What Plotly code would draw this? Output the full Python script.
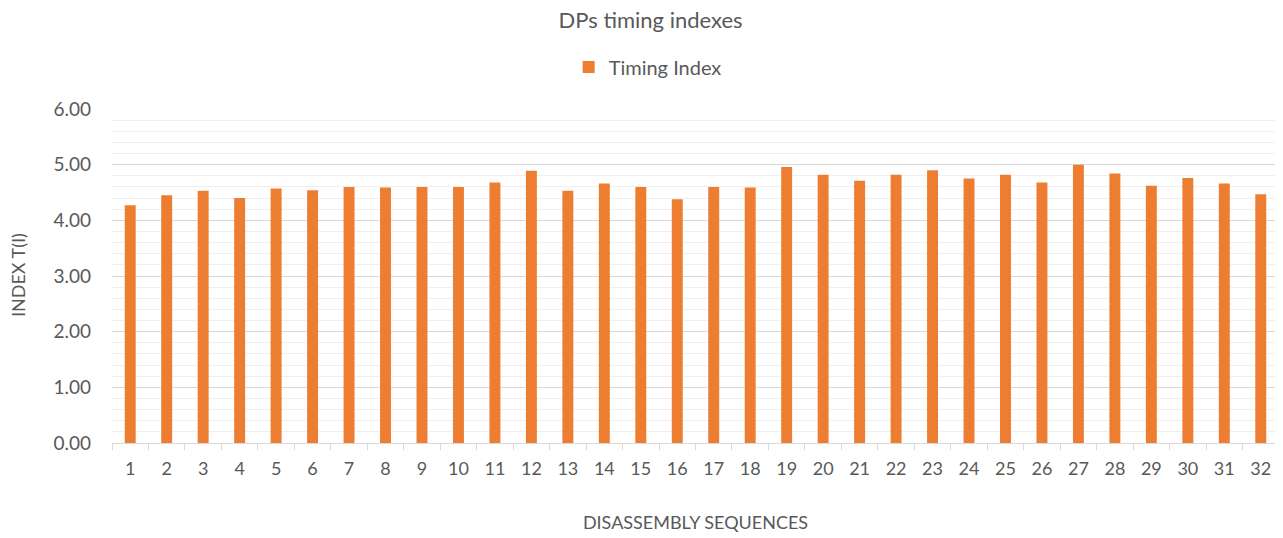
import plotly.graph_objects as go

categories = [str(i) for i in range(1, 33)]
timing_index = [4.27, 4.45, 4.53, 4.40, 4.57, 4.54, 4.60, 4.59, 4.60, 4.60,
                4.68, 4.89, 4.53, 4.66, 4.60, 4.38, 4.60, 4.59, 4.96, 4.82,
                4.71, 4.82, 4.90, 4.75, 4.82, 4.68, 5.00, 4.84, 4.62, 4.76,
                4.66, 4.47]

FONT = "Lato"
GRAY = "#595959"
W, H = 1275, 530  # page body has an 8px margin

fig = go.Figure()
fig.add_trace(go.Bar(
    x=categories, y=timing_index, name="Timing Index",
    marker=dict(color="#ED7D31", line=dict(width=0)),
    showlegend=True,
))

fig.update_layout(
    width=W, height=H,
    margin=dict(l=104, r=4, t=101, b=95, autoexpand=False),
    paper_bgcolor="white", plot_bgcolor="white",
    bargap=0.7,
    font=dict(family=FONT, color=GRAY, size=18),
    title=dict(text="DPs timing indexes", x=0.504, xanchor="center",
               y=1 - 12 / H, yanchor="middle", yref="container",
               font=dict(family=FONT, size=22, color=GRAY)),
    legend=dict(orientation="h", x=0.459, xanchor="center", y=1.126, yanchor="middle",
                font=dict(family=FONT, size=20, color=GRAY),
                itemwidth=30, bgcolor="rgba(0,0,0,0)"),
    xaxis=dict(
        type="category", tickson="boundaries", ticks="outside", ticklen=6,
        tickcolor="#d9d9d9", showline=True, linecolor="#d9d9d9", linewidth=1,
        showgrid=False, automargin=False, ticklabelstandoff=9,
        tickfont=dict(family=FONT, size=18, color=GRAY),
        title=dict(text="DISASSEMBLY SEQUENCES", standoff=38,
                   font=dict(family=FONT, size=18, color=GRAY)),
    ),
    yaxis=dict(
        range=[0, 6], dtick=1, tickformat=".2f",
        showgrid=True, gridcolor="#d9d9d9", gridwidth=1,
        zeroline=False, showline=False, ticks="", automargin=False,
        ticklabelstandoff=20,
        minor=dict(dtick=0.2, showgrid=True, gridcolor="#efefef", gridwidth=1),
        tickfont=dict(family=FONT, size=19, color=GRAY),
    ),
    annotations=[dict(
        text="INDEX T(I)", textangle=-90, showarrow=False,
        xref="paper", yref="paper", x=-0.0805, y=0.503,
        xanchor="center", yanchor="middle",
        font=dict(family=FONT, size=18, color=GRAY),
    )],
)

fig.write_html("out.html")
